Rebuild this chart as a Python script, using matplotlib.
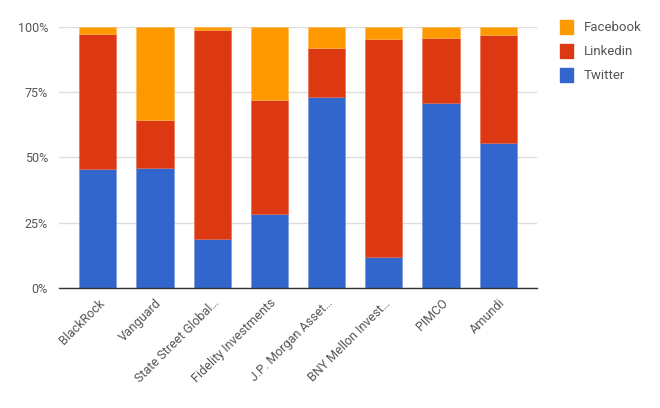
import matplotlib
matplotlib.use("Agg")
import matplotlib.pyplot as plt
import numpy as np
from matplotlib.ticker import FuncFormatter
from matplotlib.patches import Patch

categories = ["BlackRock", "Vanguard", "State Street Global…", "Fidelity Investments",
              "J.P. Morgan Asset…", "BNY Mellon Invest…", "PIMCO", "Amundi"]
twitter = [45.5, 45.9, 19.0, 28.3, 73.2, 11.8, 70.7, 55.5]
linkedin_top = [97.2, 64.5, 98.9, 72.0, 92.0, 95.4, 95.8, 96.7]
linkedin = [l - t for l, t in zip(linkedin_top, twitter)]
facebook = [100 - l for l in linkedin_top]

c_tw, c_li, c_fb = "#3366CC", "#DC3912", "#FF9900"

plt.rcParams['font.family'] = ['Roboto', 'DejaVu Sans']
fig = plt.figure(figsize=(6.6, 4.08), dpi=100)
ax = fig.add_axes([0.0894, 0.2934, 0.8136 - 0.0894, 0.9346 - 0.2934])

x = np.arange(len(categories))
w = 0.65
ax.bar(x, twitter, w, color=c_tw, zorder=3, edgecolor="#6f93d9", linewidth=0.4)
ax.bar(x, linkedin, w, bottom=twitter, color=c_li, zorder=3, edgecolor="#e5684c", linewidth=0.4)
ax.bar(x, facebook, w, bottom=linkedin_top, color=c_fb, zorder=3, edgecolor="#ffb84d", linewidth=0.4)

ax.set_xlim(-0.68, 7.68)
ax.set_ylim(0, 100)
ax.set_yticks([0, 25, 50, 75, 100])
ax.yaxis.set_major_formatter(FuncFormatter(lambda v, p: f"{int(v)}%"))
ax.grid(axis="y", color="#dddddd", linewidth=1, zorder=0)
for s in ["top", "right", "left"]:
    ax.spines[s].set_visible(False)
ax.spines["bottom"].set_color("#333333")
ax.spines["bottom"].set_linewidth(1)
ax.spines["bottom"].set_zorder(4)
ax.tick_params(axis="both", length=0, labelsize=9, labelcolor="#555555")
ax.tick_params(axis="y", pad=8)
ax.set_xticks(x)
ax.set_xticklabels(categories, rotation=45, ha="right", rotation_mode="anchor")
ax.tick_params(axis="x", pad=6)

handles = [Patch(color=c_fb, label="Facebook"), Patch(color=c_li, label="Linkedin"),
           Patch(color=c_tw, label="Twitter")]
leg = fig.legend(handles=handles, loc="upper left", bbox_to_anchor=(0.830, 0.98),
                 frameon=False, fontsize=9.5, handlelength=1.0, handleheight=1.2,
                 handletextpad=0.8, labelspacing=0.75, labelcolor="#555555")

fig.savefig("out.png", dpi=100, facecolor="white")
